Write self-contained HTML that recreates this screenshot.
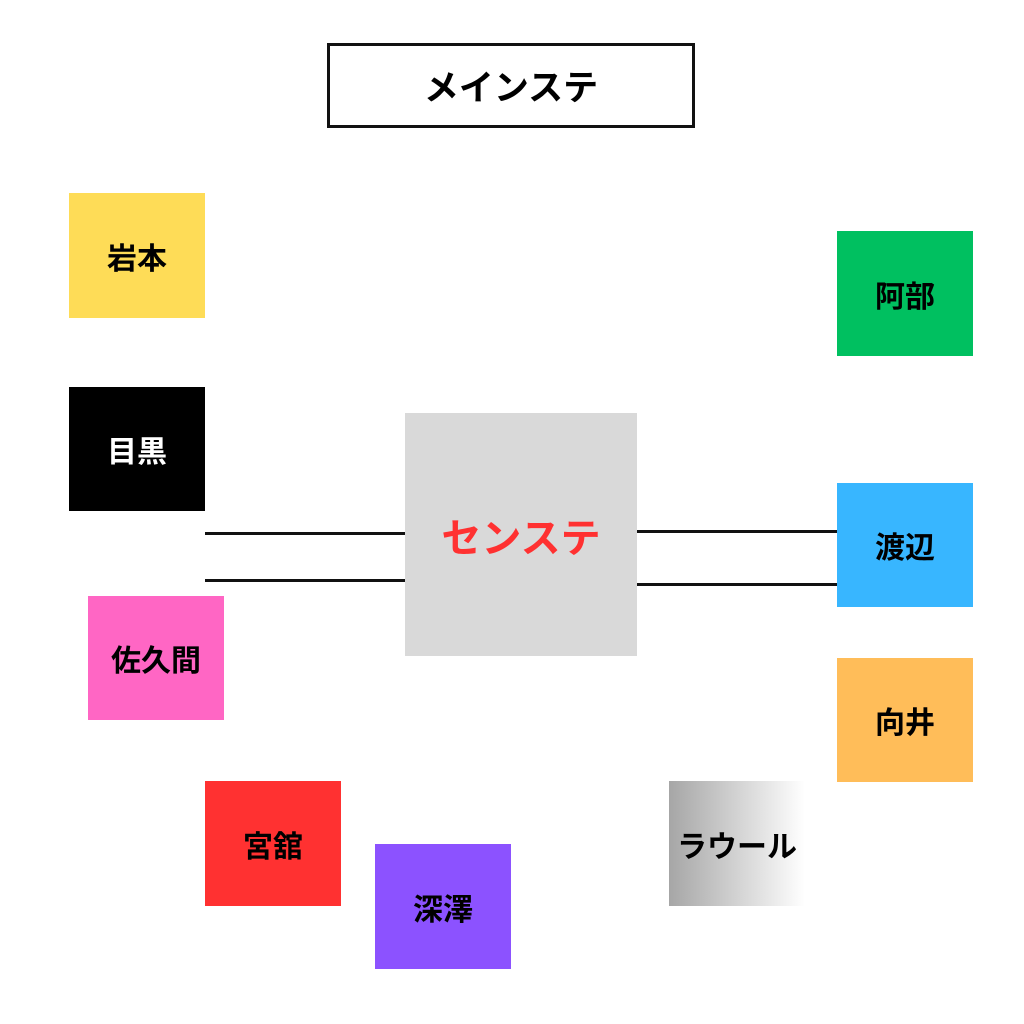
<!DOCTYPE html><html><head><meta charset="utf-8"><style>
body{margin:0;width:1024px;height:1024px;background:#fff;position:relative;overflow:hidden;font-family:"Liberation Sans","Noto Sans CJK JP",sans-serif;font-weight:bold}
.b{position:absolute;display:flex;align-items:center;justify-content:center;font-size:30px;color:#000;white-space:nowrap}
.l{position:absolute;height:3px;background:#111}
</style></head><body>
<div class="b" style="left:327px;top:43px;width:362px;height:79px;border:3px solid #111;font-size:35px">メインステ</div>
<div class="b" style="left:69px;top:193px;width:136px;height:125px;background:#fedc57">岩本</div>
<div class="b" style="left:837px;top:231px;width:136px;height:125px;background:#00c060">阿部</div>
<div class="b" style="left:69px;top:387px;width:136px;height:124px;background:#000;color:#fff">目黒</div>
<div class="b" style="left:837px;top:483px;width:136px;height:124px;background:#38b6ff">渡辺</div>
<div class="b" style="left:88px;top:596px;width:136px;height:124px;background:#ff66c4">佐久間</div>
<div class="b" style="left:837px;top:658px;width:136px;height:124px;background:#ffbd59">向井</div>
<div class="b" style="left:205px;top:781px;width:136px;height:125px;background:#ff3131">宮舘</div>
<div class="b" style="left:375px;top:844px;width:136px;height:125px;background:#8c52ff">深澤</div>
<div class="b" style="left:669px;top:781px;width:136px;height:125px;background:linear-gradient(to right,#a6a6a6,#fff)">ラウール</div>
<div class="b" style="left:405px;top:413px;width:232px;height:243px;background:#d9d9d9;color:#ff3131;font-size:40px">センステ</div>
<div class="l" style="left:205px;top:532px;width:200px"></div>
<div class="l" style="left:205px;top:579px;width:200px"></div>
<div class="l" style="left:637px;top:530px;width:200px"></div>
<div class="l" style="left:637px;top:583px;width:200px"></div>
</body></html>
